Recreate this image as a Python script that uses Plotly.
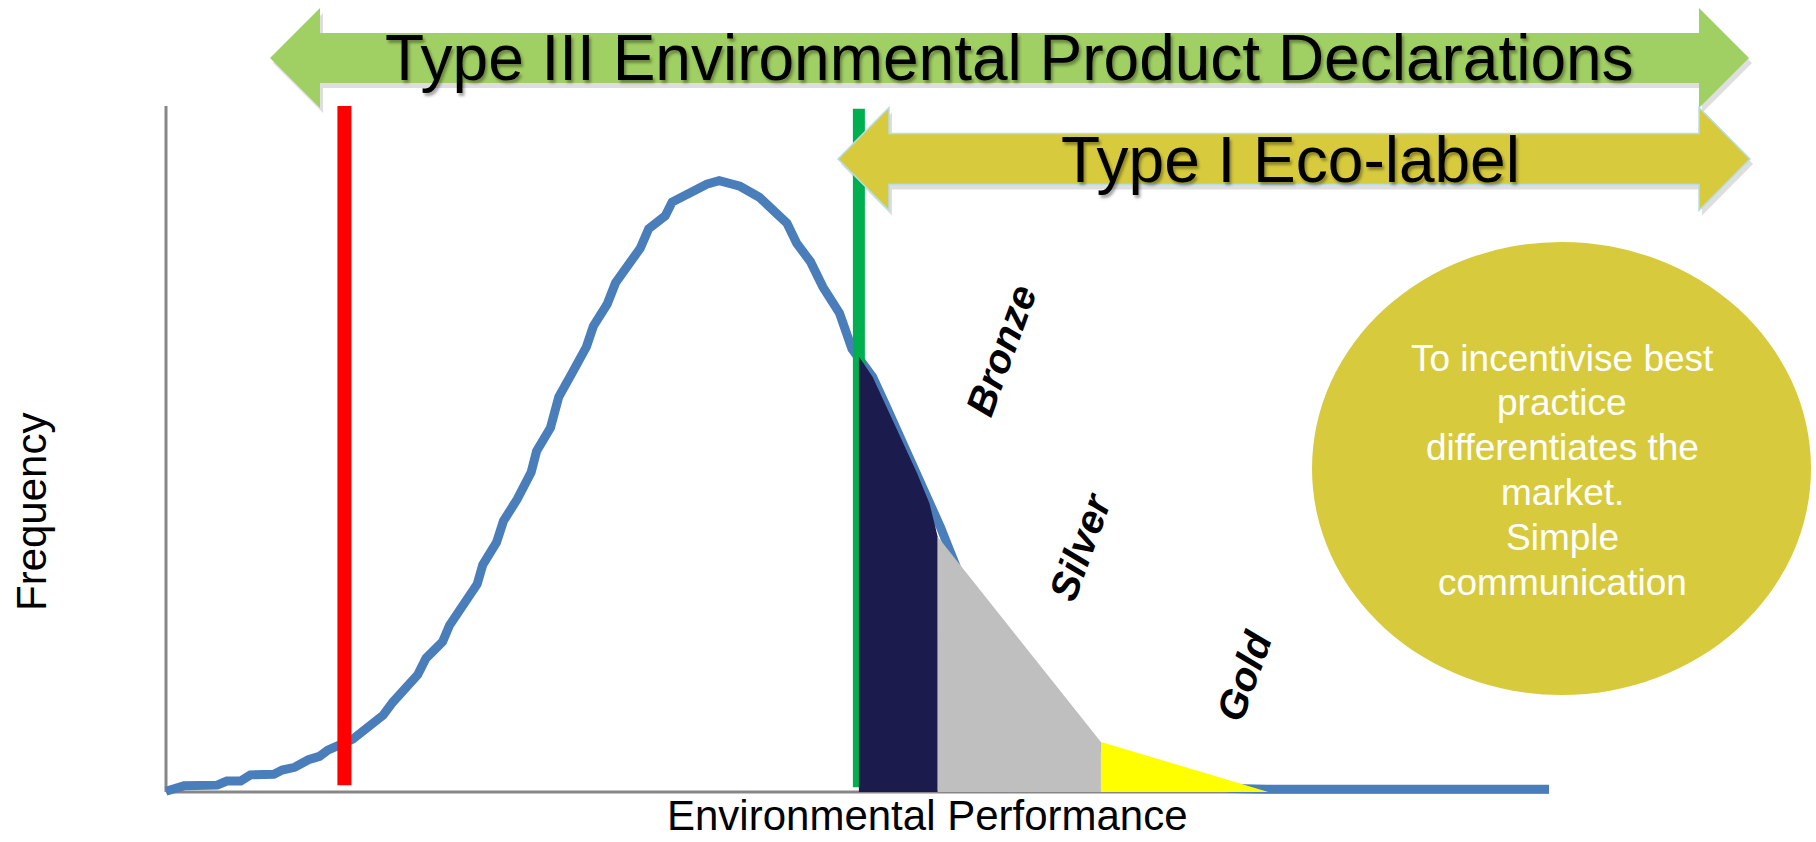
import plotly.graph_objects as go

# ---------------- data ----------------
# distribution of products by environmental performance
perf = [0, 1.3, 3.7, 4.4, 5.4, 6.1, 7.8, 8.4, 9.3, 10.3, 11.1, 11.7, 13.5, 15.7, 16.4,
        18.2, 18.8, 20.0, 20.5, 21.5, 22.5, 22.9, 23.9, 24.4, 25.4, 26.4, 26.8, 27.8,
        28.4, 29.4, 30.4, 30.9, 31.9, 32.5, 33.6, 34.3, 34.9, 36.1, 36.6, 38.1, 39.1,
        40.0, 41.5, 42.9, 43.8, 44.9, 45.6, 46.6, 47.5, 48.7, 49.6, 51.1, 52.1, 53.3,
        54.3, 55.2, 56.0, 57.4, 59.9, 62.4, 65.0, 67.5, 70.0, 72.5, 75.0, 77.1, 79.6, 100]
freq = [0.1, 0.9, 1.0, 1.6, 1.6, 2.5, 2.6, 3.2, 3.6, 4.7, 5.2, 6.1, 7.7, 11.2, 13.1,
        17.1, 19.5, 21.9, 24.3, 27.4, 30.3, 33.1, 36.4, 39.5, 42.7, 46.6, 49.7, 53.1,
        57.6, 61.2, 64.9, 67.9, 71.1, 74.2, 77.3, 79.3, 82.1, 84.0, 86.0, 87.6, 88.6,
        89.1, 88.3, 86.7, 85.1, 82.9, 80.0, 77.3, 73.6, 69.8, 64.6, 60.5, 56.1, 50.9,
        46.5, 42.1, 38.6, 31.5, 24.0, 17.5, 11.5, 6.5, 4.4, 2.4, 1.1, 0.5, 0.4, 0.4]

# threshold lines
minimum_x = 12.9
minimum_y = [1.0, 100.0]
ecolabel_x = 50.1
ecolabel_y = [0.7, 99.6]

# award bands (top edge of each shaded band)
bronze_x = [50.1, 51.1, 52.1, 53.3, 54.3, 55.2, 55.8]
bronze_y = [63.5, 60.5, 56.1, 50.9, 46.5, 42.1, 37.2]
silver_x = [55.8, 67.6]
silver_y = [37.2, 7.3]
gold_x = [67.6, 79.7]
gold_y = [7.3, 0.0]

band_labels = ["Bronze", "Silver", "Gold"]
title_top = "Type III Environmental Product Declarations"
title_mid = "Type I Eco-label"
bubble_lines = ["To incentivise best", "practice", "differentiates the", "market.",
                "Simple", "communication"]
x_title = "Environmental Performance"
y_title = "Frequency"

# ---------------- layout geometry ----------------
W, H = 1816, 842
AX_L, AX_R, AX_B, AX_T = 166, 1549, 792, 106   # pixel anchors of data 0..100
sx = (AX_R - AX_L) / 100.0
sy = (AX_B - AX_T) / 100.0
x_range = [-AX_L / sx, 100 + (W - AX_R) / sx]
y_range = [-(H - AX_B) / sy, 100 + AX_T / sy]


def X(px):
    return (px - AX_L) / sx


def Y(py):
    return (AX_B - py) / sy


FONT = "Liberation Sans, Arial, Helvetica, sans-serif"
BLUE = "#4A7EBB"

fig = go.Figure()

# distribution curve
fig.add_trace(go.Scatter(x=perf, y=freq, mode="lines",
                         line=dict(color=BLUE, width=9), hoverinfo="skip"))
# minimum requirement (red) and eco-label threshold (green)
fig.add_trace(go.Scatter(x=[minimum_x, minimum_x], y=minimum_y, mode="lines",
                         line=dict(color="#FF0000", width=14), hoverinfo="skip"))
fig.add_trace(go.Scatter(x=[ecolabel_x, ecolabel_x], y=ecolabel_y, mode="lines",
                         line=dict(color="#00B050", width=12), hoverinfo="skip"))


def band(xs, ys, color):
    px = [xs[0]] + list(xs) + [xs[-1]]
    py = [0] + list(ys) + [0]
    return go.Scatter(x=px, y=py, mode="lines", fill="toself", fillcolor=color,
                      line=dict(width=0, color=color), hoverinfo="skip")


fig.add_trace(band(bronze_x, bronze_y, "#1C1B4D"))
fig.add_trace(band(silver_x, silver_y, "#BFBFBF"))
fig.add_trace(band(gold_x, gold_y, "#FFFF00"))

shapes = []
# axes
shapes.append(dict(type="line", xref="x", yref="y", x0=0, x1=0, y0=0, y1=100,
                   line=dict(color="#878787", width=3), layer="below"))
shapes.append(dict(type="line", xref="x", yref="y", x0=0, x1=100, y0=0, y1=0,
                   line=dict(color="#878787", width=3), layer="below"))


def arrow_path(xl, xr, yc, shaft_px, head_px, headlen_px, dx=0, dy=0):
    hl = headlen_px / sx
    sh = shaft_px / sy
    hh = head_px / sy
    ox, oy = dx / sx, -dy / sy
    pts = [(xl, yc), (xl + hl, yc + hh), (xl + hl, yc + sh), (xr - hl, yc + sh),
           (xr - hl, yc + hh), (xr, yc), (xr - hl, yc - hh), (xr - hl, yc - sh),
           (xl + hl, yc - sh), (xl + hl, yc - hh)]
    return "M " + " L ".join(f"{px + ox:.3f},{py + oy:.3f}" for px, py in pts) + " Z"


# green double arrow (Type III)
g_args = (X(270), X(1749), Y(58), 25, 50, 50)
shapes.append(dict(type="path", xref="x", yref="y", path=arrow_path(*g_args, dx=3, dy=5),
                   fillcolor="rgba(0,0,0,0.13)", line=dict(width=0), layer="above"))
shapes.append(dict(type="path", xref="x", yref="y", path=arrow_path(*g_args),
                   fillcolor="#A0CF63", line=dict(width=0), layer="above"))
# yellow double arrow (Type I)
y_args = (X(838), X(1750), Y(159), 25.5, 51.5, 51)
shapes.append(dict(type="path", xref="x", yref="y", path=arrow_path(*y_args, dx=3, dy=5),
                   fillcolor="rgba(0,0,0,0.13)", line=dict(width=0), layer="above"))
shapes.append(dict(type="path", xref="x", yref="y", path=arrow_path(*y_args),
                   fillcolor="#D7CB3D", line=dict(width=1.5, color="#B7DDE8"), layer="above"))
# bubble
shapes.append(dict(type="circle", xref="x", yref="y", x0=X(1312), x1=X(1811),
                   y0=Y(695), y1=Y(242), fillcolor="#D7CB3D", line=dict(width=0),
                   layer="above"))

ann = []
shadow = "2px 3px 3px rgba(0,0,0,0.35)"
ann.append(dict(x=X(1009), y=Y(58), text=title_top, showarrow=False, xref="x", yref="y",
                xanchor="center", yanchor="middle",
                font=dict(family=FONT, size=64, color="#000000", shadow=shadow)))
ann.append(dict(x=X(1290), y=Y(160), text=title_mid, showarrow=False, xref="x", yref="y",
                xanchor="center", yanchor="middle",
                font=dict(family=FONT, size=64, color="#000000", shadow=shadow)))

bubble_y_px = [358, 402, 447, 492, 537, 582]
for line, ypx in zip(bubble_lines, bubble_y_px):
    ann.append(dict(x=X(1562), y=Y(ypx), text=line, showarrow=False, xref="x", yref="y",
                    xanchor="center", yanchor="middle",
                    font=dict(family=FONT, size=37, color="#FFFFFF")))

label_pos = [(1001, 350), (1080, 547), (1244, 676)]
for lab, (lx, ly) in zip(band_labels, label_pos):
    ann.append(dict(x=X(lx), y=Y(ly), text=lab, showarrow=False, xref="x", yref="y",
                    textangle=-70, xanchor="center", yanchor="middle",
                    font=dict(family=FONT, size=40, color="#000000",
                              weight="bold", style="italic")))

ann.append(dict(x=X(927), y=Y(815), text=x_title, showarrow=False, xref="x", yref="y",
                xanchor="center", yanchor="middle",
                font=dict(family=FONT, size=42, color="#000000")))
ann.append(dict(x=X(31), y=Y(512), text=y_title, showarrow=False, xref="x", yref="y",
                textangle=-90, xanchor="center", yanchor="middle",
                font=dict(family=FONT, size=42, color="#000000")))

fig.update_layout(
    width=W, height=H, autosize=False,
    margin=dict(l=0, r=0, t=0, b=0, pad=0),
    paper_bgcolor="white", plot_bgcolor="white",
    showlegend=False,
    xaxis=dict(range=x_range, visible=False, fixedrange=True),
    yaxis=dict(range=y_range, visible=False, fixedrange=True),
    shapes=shapes, annotations=ann,
)

fig.write_html("out.html", config={"displayModeBar": False},
               post_script="document.body.style.margin='0px';"
                           "document.body.style.overflow='hidden';")
